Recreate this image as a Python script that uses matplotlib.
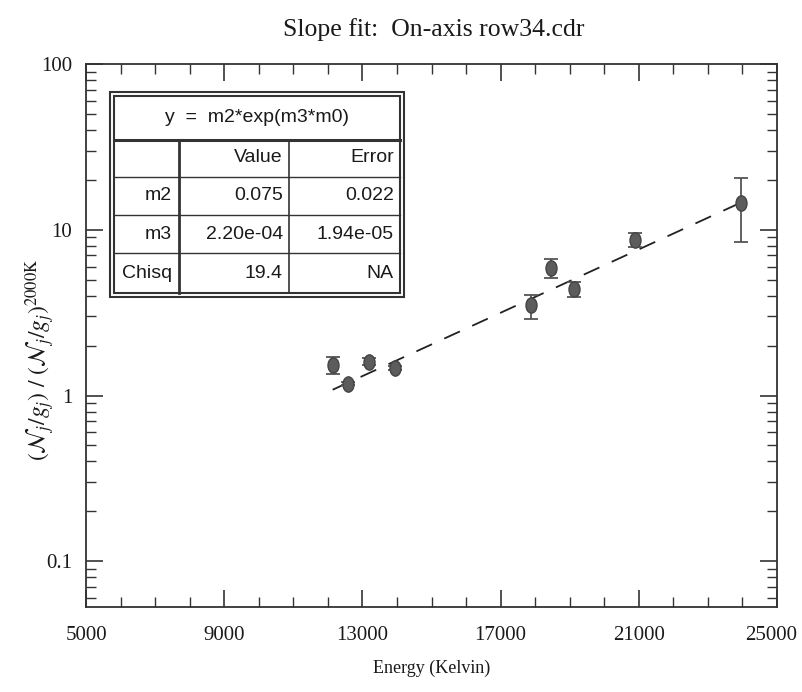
import matplotlib.pyplot as plt
import numpy as np
from matplotlib.markers import MarkerStyle
from matplotlib.transforms import Affine2D, ScaledTranslation
from matplotlib.ticker import FixedLocator, LogLocator, NullFormatter

#----------------data
energy = [12140, 12590, 13190, 13940, 17870, 18450, 19130, 20890, 23960]
ratio = [1.53, 1.18, 1.60, 1.46, 3.51, 5.85, 4.37, 8.67, 14.55]
err_lo = [1.34, 1.15, 1.52, 1.43, 2.89, 5.13, 3.94, 7.83, 8.47]
err_hi = [1.71, 1.21, 1.68, 1.50, 4.04, 6.63, 4.86, 9.59, 20.6]

m2, m3 = 0.075, 2.20e-4   # fit parameters from the box

table_title = "y  =  m2*exp(m3*m0)"
table_head = ["", "Value", "Error"]
table_rows = [["m2", "0.075", "0.022"],
              ["m3", "2.20e-04", "1.94e-05"],
              ["Chisq", "19.4", "NA"]]

plt.rcParams['font.family'] = ['Liberation Serif', 'DejaVu Serif']
plt.rcParams['mathtext.fontset'] = 'stix'

W, H = 802, 692
fig = plt.figure(figsize=(W / 100, H / 100), dpi=100)

def fx(px):
    return px / W

def fy(py):
    return 1 - py / H

ax = fig.add_axes([fx(86), fy(607), fx(777) - fx(86), fy(64) - fy(607)])

#---------------- points with error bars
e = np.array(energy)
r = np.array(ratio)
yerr = [r - np.array(err_lo), np.array(err_hi) - r]
mk = MarkerStyle('o', transform=Affine2D().scale(0.72, 1.0))
ax.errorbar(e, r, yerr=yerr, fmt='none', ecolor='#555555', elinewidth=1.3,
            capsize=5, capthick=1.3, zorder=2)
ax.plot(e, r, linestyle='none', marker=mk, markersize=11,
        color='#5c5c5c', markeredgecolor='#444444', zorder=3)

#---------------- fit line
xf = np.linspace(e.min(), e.max(), 200)
ax.plot(xf, m2 * np.exp(m3 * xf), color='#222222', lw=1.3,
        dashes=(9.5, 7.5), zorder=1)

ax.set_yscale('log')
ax.set_xlim(5000, 25000)
ax.set_ylim(0.053, 100)
ax.xaxis.set_major_locator(FixedLocator([5000, 9000, 13000, 17000, 21000, 25000]))
ax.xaxis.set_minor_locator(FixedLocator(np.arange(5000, 25001, 1000)))
ax.yaxis.set_major_locator(FixedLocator([0.1, 1, 10, 100]))
ax.yaxis.set_minor_locator(LogLocator(base=10, subs=np.arange(2, 10)))
ax.yaxis.set_minor_formatter(NullFormatter())
ax.set_yticklabels(["0.1", "1", "10", "100"])
ax.tick_params(which='both', direction='in', top=True, right=True,
               colors='#333333', labelcolor='#1a1a1a', labelsize=15)
ax.tick_params(which='major', length=12, width=1.2, pad=14)
ax.tick_params(which='minor', length=7, width=1.0)
ax.tick_params(axis='y', which='major', pad=10)
for s in ax.spines.values():
    s.set_linewidth(1.3)
    s.set_color('#333333')

# last x label sits a bit inside the figure edge, as in the original
last = ax.get_xticklabels()[-1]
last.set_transform(last.get_transform() + ScaledTranslation(-6 / 100, 0, fig.dpi_scale_trans))

ax.set_xlabel("Energy (Kelvin)", fontsize=13, labelpad=10, color='#1a1a1a')
fig.text(fx(40), fy(360), r"$(\mathcal{N}_j/g_j)\ /\ (\mathcal{N}_j/g_j)^{2000\mathrm{K}}$",
         rotation=90, ha='center', va='center', fontsize=17, color='#1a1a1a')
fig.text(fx(434), fy(30), "Slope fit:  On-axis row34.cdr", ha='center',
         va='center', fontsize=18.5, color='#1a1a1a')

#---------------- parameter table (drawn with plain lines)
def hline(y, x0, x1, lw):
    fig.add_artist(plt.Line2D([fx(x0), fx(x1)], [fy(y), fy(y)], color='#333333', lw=lw))

def vline(x, y0, y1, lw):
    fig.add_artist(plt.Line2D([fx(x), fx(x)], [fy(y0), fy(y1)], color='#333333', lw=lw))

fig.add_artist(plt.Rectangle((fx(110), fy(297)), fx(404) - fx(110), fy(92) - fy(297),
                             fill=True, facecolor='white', edgecolor='#333333', lw=1.5))
fig.add_artist(plt.Rectangle((fx(114), fy(293)), fx(400) - fx(114), fy(96) - fy(293),
                             fill=False, edgecolor='#333333', lw=1.5))
hline(140, 114, 400, 2.2)
for yy in [177, 215, 253]:
    hline(yy, 114, 400, 1.0)
vline(179, 140, 293, 2.0)
vline(289, 140, 293, 1.2)

tfont = ['Liberation Sans Narrow', 'Liberation Sans', 'DejaVu Sans']
fig.text(fx(257), fy(118), table_title, ha='center', va='center',
         fontsize=14, family=tfont, color='#1a1a1a')
row_mid = [158, 196, 234, 273]
col_right = [172, 283, 394]
for ri, row in enumerate([table_head] + table_rows):
    for ci, txt in enumerate(row):
        fig.text(fx(col_right[ci]), fy(row_mid[ri]), txt, ha='right', va='center',
                 fontsize=14, family=tfont, color='#1a1a1a')

plt.savefig("out.png", dpi=100)
